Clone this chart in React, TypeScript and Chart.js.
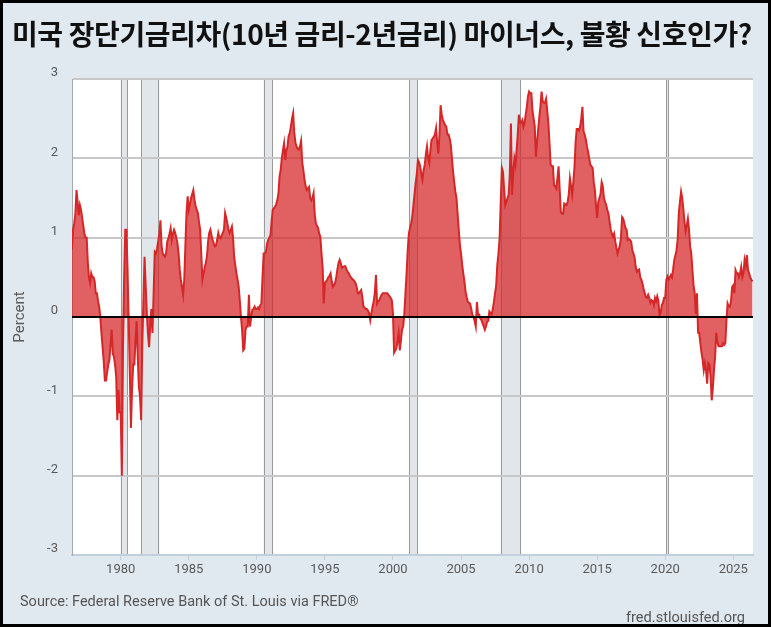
import React, { useEffect, useRef } from "react";
import { Chart, registerables, ChartConfiguration, Plugin } from "chart.js";

Chart.register(...registerables);

// first month of the series (FRED T10Y2Y, monthly reading off the picture)
const FIRST_MONTH = "1976-06";

// 10-year minus 2-year Treasury spread, percent, one value per month
const spread: number[] = [
  // 1976 (Jun-Dec)
  0.85, 1.1, 1.18, 1.3, 1.6, 1.45, 1.28,
  // 1977
  1.41, 1.35, 1.25, 1.15, 1.05, 1.0, 1.0, 0.68, 0.5, 0.43, 0.55, 0.5,
  // 1978
  0.5, 0.45, 0.3, 0.3, 0.2, 0.13, 0.0, -0.2, -0.38, -0.55, -0.8, -0.8,
  // 1979
  -0.7, -0.6, -0.54, -0.35, -0.16, -0.46, -0.5, -0.6, -0.75, -1.3, -0.92, -1.2,
  // 1980
  -1.2, -2.0, -0.4, 0.5, 1.1, 1.1, 0.6, -0.04, -0.7, -1.4, -0.9, -0.6,
  // 1981
  -0.6, -0.3, -0.05, -0.5, -0.88, -1.0, -1.3, -0.35, 0.2, 0.76, 0.4, 0.05,
  // 1982
  -0.2, -0.38, -0.1, 0.1, -0.2, 0.3, 0.82, 0.8, 0.86, 0.95, 1.05, 1.22,
  // 1983
  0.9, 0.8, 0.78, 0.76, 0.8, 0.95, 0.99, 1.05, 1.12, 0.97, 1.05, 1.1,
  // 1984
  1.06, 1.0, 0.93, 0.8, 0.6, 0.47, 0.38, 0.28, 0.47, 0.9, 1.31, 1.52,
  // 1985
  1.35, 1.42, 1.5, 1.55, 1.6, 1.48, 1.4, 1.35, 1.31, 1.2, 1.1, 0.8,
  // 1986
  0.47, 0.55, 0.62, 0.68, 0.76, 0.95, 1.06, 1.1, 1.03, 0.97, 0.93, 0.89,
  // 1987
  0.9, 0.97, 1.06, 1.0, 0.99, 1.03, 1.06, 1.1, 1.31, 1.25, 1.18, 1.1,
  // 1988
  1.06, 1.1, 1.14, 1.0, 0.76, 0.65, 0.55, 0.47, 0.38, 0.2, 0.0, -0.16,
  // 1989
  -0.42, -0.4, -0.16, -0.12, -0.12, 0.28, -0.12, 0.0, 0.09, 0.1, 0.13, 0.1,
  // 1990
  0.1, 0.12, 0.1, 0.15, 0.17, 0.5, 0.8, 0.8, 0.82, 0.92, 0.97, 1.0,
  // 1991
  1.03, 1.2, 1.35, 1.37, 1.39, 1.42, 1.47, 1.55, 1.77, 1.85, 2.0, 2.1,
  // 1992
  2.19, 1.98, 2.1, 2.15, 2.28, 2.32, 2.4, 2.5, 2.57, 2.32, 2.2, 2.15,
  // 1993
  2.12, 2.11, 2.15, 2.22, 1.95, 1.85, 1.73, 1.65, 1.6, 1.62, 1.64, 1.5,
  // 1994
  1.47, 1.5, 1.56, 1.3, 1.18, 1.15, 1.12, 1.05, 1.01, 0.8, 0.63, 0.17,
  // 1995
  0.43, 0.45, 0.47, 0.5, 0.52, 0.55, 0.45, 0.38, 0.4, 0.43, 0.5, 0.6,
  // 1996
  0.68, 0.72, 0.68, 0.62, 0.63, 0.64, 0.64, 0.6, 0.57, 0.55, 0.52, 0.5,
  // 1997
  0.48, 0.47, 0.45, 0.43, 0.38, 0.3, 0.3, 0.32, 0.34, 0.25, 0.13, 0.12,
  // 1998
  0.1, 0.1, 0.08, 0.05, -0.04, 0.05, 0.13, 0.2, 0.3, 0.53, 0.17, 0.2,
  // 1999
  0.21, 0.25, 0.28, 0.3, 0.3, 0.3, 0.3, 0.3, 0.28, 0.26, 0.24, 0.21,
  // 2000
  0.04, -0.45, -0.42, -0.4, -0.3, -0.2, -0.42, -0.3, -0.16, -0.12, 0.04, 0.3,
  // 2001
  0.55, 0.84, 1.05, 1.12, 1.18, 1.26, 1.4, 1.55, 1.69, 1.8, 1.98, 1.95,
  // 2002
  1.9, 1.8, 1.73, 1.85, 1.92, 2.05, 2.15, 2.0, 1.94, 2.1, 2.23, 2.25,
  // 2003
  2.27, 2.3, 2.38, 2.2, 2.06, 2.3, 2.67, 2.55, 2.48, 2.45, 2.42, 2.4,
  // 2004
  2.3, 2.3, 2.25, 2.17, 2.0, 1.83, 1.7, 1.58, 1.5, 1.3, 1.1, 0.91,
  // 2005
  0.8, 0.66, 0.55, 0.45, 0.32, 0.25, 0.19, 0.18, 0.17, 0.1, 0.03, 0.0,
  // 2006
  -0.05, -0.12, 0.19, 0.03, 0.03, -0.02, -0.04, -0.08, -0.12, -0.16, -0.12, -0.06,
  // 2007
  -0.05, 0.07, 0.05, 0.03, 0.1, 0.19, 0.3, 0.4, 0.66, 0.8, 0.99, 1.45,
  // 2008
  1.88, 1.83, 1.6, 1.41, 1.45, 1.5, 1.54, 1.8, 2.44, 1.54, 1.8, 2.0,
  // 2009
  1.92, 2.1, 2.3, 2.55, 2.45, 2.45, 2.48, 2.4, 2.45, 2.55, 2.65, 2.78,
  // 2010
  2.84, 2.82, 2.82, 2.6, 2.5, 2.4, 2.02, 2.2, 2.36, 2.52, 2.65, 2.84,
  // 2011
  2.72, 2.7, 2.7, 2.75, 2.6, 2.44, 2.2, 1.92, 1.9, 1.9, 1.66, 1.65,
  // 2012
  1.62, 1.75, 1.9, 1.6, 1.32, 1.3, 1.3, 1.43, 1.42, 1.41, 1.45, 1.55,
  // 2013
  1.75, 1.65, 1.54, 1.7, 1.88, 2.2, 2.37, 2.37, 2.35, 2.4, 2.5, 2.65,
  // 2014
  2.34, 2.3, 2.24, 2.15, 2.08, 2.0, 1.92, 1.9, 1.88, 1.7, 1.6, 1.41,
  // 2015
  1.25, 1.45, 1.5, 1.55, 1.7, 1.65, 1.5, 1.45, 1.41, 1.35, 1.3, 1.2,
  // 2016
  1.1, 1.05, 1.01, 1.05, 0.95, 0.87, 0.8, 0.85, 0.9, 1.0, 1.26, 1.24,
  // 2017
  1.18, 1.12, 1.1, 0.97, 0.98, 0.97, 0.95, 0.84, 0.8, 0.75, 0.63, 0.57,
  // 2018
  0.59, 0.6, 0.5, 0.47, 0.42, 0.35, 0.3, 0.25, 0.24, 0.28, 0.24, 0.18,
  // 2019
  0.21, 0.2, 0.15, 0.24, 0.2, 0.26, 0.2, 0.02, 0.05, 0.15, 0.18, 0.24,
  // 2020
  0.24, 0.47, 0.51, 0.47, 0.5, 0.53, 0.5, 0.6, 0.72, 0.78, 0.84, 0.98,
  // 2021
  1.31, 1.45, 1.58, 1.5, 1.36, 1.2, 1.08, 1.15, 1.24, 1.1, 0.89, 0.8,
  // 2022
  0.59, 0.4, 0.3, 0.04, 0.3, -0.2, -0.2, -0.33, -0.45, -0.54, -0.67, -0.58,
  // 2023
  -0.67, -0.84, -0.58, -0.6, -0.75, -1.05, -0.9, -0.67, -0.5, -0.2, -0.31, -0.37,
  // 2024
  -0.37, -0.37, -0.37, -0.33, -0.35, -0.33, -0.04, 0.17, 0.13, 0.13, 0.2, 0.38,
  // 2025
  0.4, 0.3, 0.59, 0.55, 0.55, 0.5, 0.55, 0.63, 0.5, 0.55, 0.72, 0.65,
  // 2026 (Jan-Jun)
  0.78, 0.59, 0.55, 0.5, 0.47, 0.45,
];

// NBER recessions shaded by FRED (first month, last month)
const recessionStarts = ["1980-01", "1981-07", "1990-07", "2001-03", "2007-12", "2020-02"];
const recessionEnds = ["1980-07", "1982-11", "1991-03", "2001-11", "2009-06", "2020-04"];

const xTickYears = [1980, 1985, 1990, 1995, 2000, 2005, 2010, 2015, 2020, 2025];
const yTickValues = [-3, -2, -1, 0, 1, 2, 3];

const X_MIN = 1976.42;
const X_MAX = 2026.45;

const TITLE = "미국 장단기금리차(10년 금리-2년금리) 마이너스, 불황 신호인가?";
const SOURCE = "Source: Federal Reserve Bank of St. Louis via FRED®";
const SITE = "fred.stlouisfed.org";

const monthToYear = (m: string): number => {
  const [y, mo] = m.split("-").map(Number);
  return y + (mo - 1) / 12;
};

const W = 771;
const H = 627;
const TICK_FONT = "Roboto, 'Noto Sans', sans-serif";
const BG = "#e1e9f0";

// white plot area + recession shading, drawn under the grid
const plotBackground: Plugin<"line"> = {
  id: "plotBackground",
  beforeDraw(chart) {
    const { ctx, chartArea, scales } = chart;
    const x = scales.x;
    ctx.save();
    ctx.fillStyle = "#ffffff";
    ctx.fillRect(chartArea.left, chartArea.top, chartArea.right - chartArea.left, chartArea.bottom - chartArea.top);
    recessionStarts.forEach((s, i) => {
      const x0 = x.getPixelForValue(monthToYear(s));
      const x1 = x.getPixelForValue(monthToYear(recessionEnds[i]));
      ctx.fillStyle = "#e1e6ea";
      ctx.fillRect(x0, chartArea.top, x1 - x0, chartArea.bottom - chartArea.top);
      ctx.strokeStyle = "#9a9a9a";
      ctx.lineWidth = 1;
      ctx.beginPath();
      ctx.moveTo(Math.round(x0) + 0.5, chartArea.top);
      ctx.lineTo(Math.round(x0) + 0.5, chartArea.bottom);
      ctx.moveTo(Math.round(x1) - 0.5, chartArea.top);
      ctx.lineTo(Math.round(x1) - 0.5, chartArea.bottom);
      ctx.stroke();
    });
    ctx.restore();
  },
  // black zero line on top of the area
  afterDatasetsDraw(chart) {
    const { ctx, chartArea, scales } = chart;
    const y0 = scales.y.getPixelForValue(0);
    ctx.save();
    ctx.strokeStyle = "#000000";
    ctx.lineWidth = 2;
    ctx.beginPath();
    ctx.moveTo(chartArea.left, y0);
    ctx.lineTo(chartArea.right, y0);
    ctx.stroke();
    ctx.restore();
  },
};

const App: React.FC = () => {
  const canvasRef = useRef<HTMLCanvasElement>(null);
  const chartRef = useRef<Chart | null>(null);

  useEffect(() => {
    document.body.style.margin = "0";
    if (!canvasRef.current) return;
    const ctx = canvasRef.current.getContext("2d");
    if (!ctx) return;

    const start = monthToYear(FIRST_MONTH);
    const points = spread.map((v, i) => ({ x: start + i / 12, y: v }));

    const config: ChartConfiguration<"line"> = {
      type: "line",
      data: {
        datasets: [
          {
            data: points,
            borderColor: "rgb(214, 39, 40)",
            borderWidth: 2,
            backgroundColor: "rgba(214, 39, 40, 0.73)",
            fill: "origin",
            pointRadius: 0,
            tension: 0,
          },
        ],
      },
      options: {
        responsive: false,
        animation: false,
        devicePixelRatio: 1,
        layout: { padding: { top: 79, right: 18, bottom: 0, left: 0 } },
        plugins: {
          legend: { display: false },
          tooltip: { enabled: false },
        },
        scales: {
          x: {
            type: "linear",
            min: X_MIN,
            max: X_MAX,
            afterBuildTicks: (axis) => {
              axis.ticks = xTickYears.map((v) => ({ value: v }));
            },
            afterFit: (axis) => {
              axis.height = 72;
            },
            grid: {
              drawOnChartArea: false,
              drawTicks: true,
              tickLength: 5,
              tickColor: "#c3cfdb",
              tickWidth: 1,
            },
            border: { display: true, color: "#c3cfdb", width: 2 },
            ticks: {
              color: "#595959",
              font: { family: TICK_FONT, size: 13 },
              padding: 2,
              maxRotation: 0,
              autoSkip: false,
              callback: (v) => String(v),
            },
          },
          y: {
            min: -3,
            max: 3,
            afterBuildTicks: (axis) => {
              axis.ticks = yTickValues.map((v) => ({ value: v }));
            },
            afterFit: (axis) => {
              axis.width = 72;
            },
            grid: { color: "#c8c8c8", lineWidth: 2, drawTicks: false },
            border: { display: true, color: "#a8a8a8", width: 1 },
            ticks: {
              color: "#595959",
              font: { family: TICK_FONT, size: 13 },
              padding: 14,
              labelOffset: -6,
              callback: (v) => String(v),
            },
            title: {
              display: true,
              text: "Percent",
              color: "#595959",
              font: { family: TICK_FONT, size: 15 },
              padding: { top: 11, bottom: 0 },
            },
          },
        },
      },
      plugins: [plotBackground],
    };

    chartRef.current = new Chart(ctx, config);
    return () => {
      chartRef.current?.destroy();
      chartRef.current = null;
    };
  }, []);

  return (
    <div style={{ position: "relative", width: W, height: H, background: BG, overflow: "hidden" }}>
      <canvas ref={canvasRef} width={W} height={H} style={{ position: "absolute", left: 0, top: 0 }} />
      <div
        style={{
          position: "absolute",
          left: 12,
          top: 19,
          fontFamily: "'Noto Sans CJK KR', 'Noto Sans', sans-serif",
          fontWeight: 700,
          fontSize: 28,
          lineHeight: 1,
          letterSpacing: -0.4,
          color: "#111111",
          whiteSpace: "nowrap",
        }}
      >
        {TITLE}
      </div>
      <div
        style={{
          position: "absolute",
          left: 20,
          top: 595,
          fontFamily: TICK_FONT,
          fontSize: 14.5,
          lineHeight: 1,
          color: "#555555",
          whiteSpace: "nowrap",
        }}
      >
        {SOURCE}
      </div>
      <div
        style={{
          position: "absolute",
          right: 26,
          top: 610,
          fontFamily: TICK_FONT,
          fontSize: 14.6,
          lineHeight: 1,
          color: "#555555",
          whiteSpace: "nowrap",
        }}
      >
        {SITE}
      </div>
      <div
        style={{
          position: "absolute",
          inset: 0,
          border: "3px solid #000000",
          boxSizing: "border-box",
          pointerEvents: "none",
        }}
      />
    </div>
  );
};

export default App;
